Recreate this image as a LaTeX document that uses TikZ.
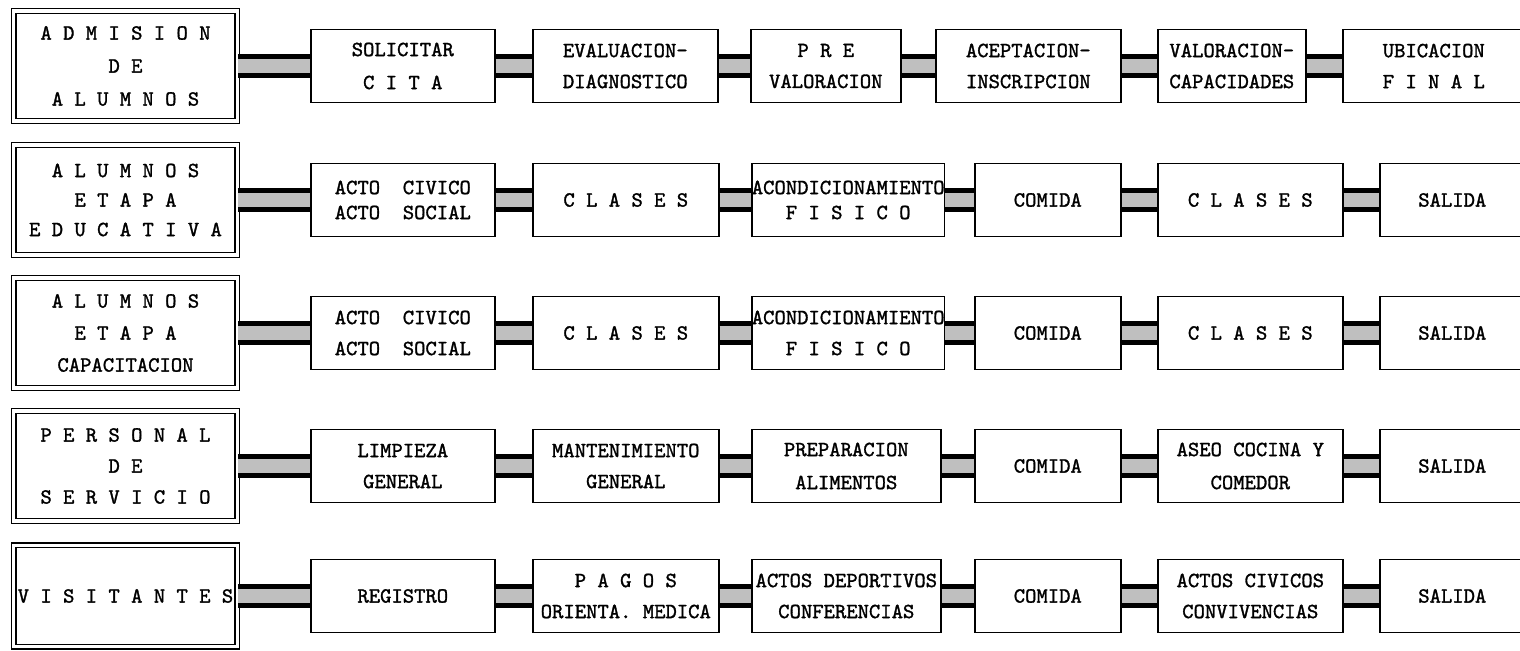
\documentclass[tikz,border=0pt]{standalone}
\usepackage{fontspec}
\newfontfamily\tw{lmmono10-regular}[Extension=.otf,FakeBold=1.4]
\begin{document}
\begin{tikzpicture}[x=0.5pt,y=-0.5pt,
  box/.style={draw,line width=0.8pt,inner sep=0pt,minimum height=36.5pt,align=center,
    font=\tw\fontsize{10.8}{15.5}\selectfont},
  tight/.style={font=\tw\fontsize{10.8}{12.5}\selectfont},
  loose/.style={font=\tw\fontsize{10.8}{16.5}\selectfont},
  head/.style={draw,double,double distance=1.6pt,line width=0.6pt,inner sep=0pt,
    minimum width=111.7pt,minimum height=55pt,align=center,
    font=\tw\fontsize{10.8}{15.5}\selectfont},
  bar/.style={draw=black,line width=2.4pt,double=gray!50,double distance=7pt}]
\useasboundingbox (0,0) rectangle (1520,651);
\newcommand\bx[6][]{\node[box,#1,anchor=west,minimum width={(#4-#3)*0.5pt}] (#2) at (#3,#5) {#6};}

% ---------- row 1
\node[head,font=\tw\fontsize{10.8}{16.5}\selectfont] (h1) at (125.5,66) {A D M I S I O N\\D E\\A L U M N O S};
\bx[loose]{a1}{310}{494}{66}{SOLICITAR\\C I T A}
\bx{a2}{532}{717}{66}{EVALUACION-\\DIAGNOSTICO}
\bx{a3}{750}{900}{66}{P R E\\VALORACION}
\bx{a4}{935}{1120}{66}{ACEPTACION-\\INSCRIPCION}
\bx{a5}{1157}{1305}{66}{VALORACION-\\CAPACIDADES}
\bx{a6}{1342}{1524}{66}{UBICACION\\F I N A L}
\draw[bar] (h1.east) -- (a1.west);
\draw[bar] (a1.east) -- (a2.west);
\draw[bar] (a2.east) -- (a3.west);
\draw[bar] (a3.east) -- (a4.west);
\draw[bar] (a4.east) -- (a5.west);
\draw[bar] (a5.east) -- (a6.west);

% ---------- row 2
\node[head,font=\tw\fontsize{10.8}{14.75}\selectfont] (h2) at (125.5,200) {A L U M N O S\\E T A P A\\E D U C A T I V A};
\bx[tight]{b1}{310}{494}{200}{ACTO\ \ CIVICO\\ACTO\ \ SOCIAL}
\bx{b2}{532}{718}{200}{C L A S E S}
\bx[tight]{b3}{751}{940}{200}{ACONDICIONAMIENTO\\F I S I C O}
\bx{b4}{974}{1120}{200}{COMIDA}
\bx{b5}{1157}{1342}{200}{C L A S E S}
\bx{b6}{1379}{1524}{200}{SALIDA}
\draw[bar] (h2.east) -- (b1.west);
\draw[bar] (b1.east) -- (b2.west);
\draw[bar] (b2.east) -- (b3.west);
\draw[bar] (b3.east) -- (b4.west);
\draw[bar] (b4.east) -- (b5.west);
\draw[bar] (b5.east) -- (b6.west);

% ---------- row 3
\node[head,font=\tw\fontsize{10.8}{16}\selectfont] (h3) at (125.5,333) {A L U M N O S\\E T A P A\\CAPACITACION};
\bx{c1}{310}{494}{333}{ACTO\ \ CIVICO\\ACTO\ \ SOCIAL}
\bx{c2}{532}{718}{333}{C L A S E S}
\bx{c3}{751}{940}{333}{ACONDICIONAMIENTO\\F I S I C O}
\bx{c4}{974}{1120}{333}{COMIDA}
\bx{c5}{1157}{1342}{333}{C L A S E S}
\bx{c6}{1379}{1524}{333}{SALIDA}
\draw[bar] (h3.east) -- (c1.west);
\draw[bar] (c1.east) -- (c2.west);
\draw[bar] (c2.east) -- (c3.west);
\draw[bar] (c3.east) -- (c4.west);
\draw[bar] (c4.east) -- (c5.west);
\draw[bar] (c5.east) -- (c6.west);

% ---------- row 4
\node[head] (h4) at (125.5,466) {P E R S O N A L\\D E\\S E R V I C I O};
\bx{d1}{310}{494}{466}{LIMPIEZA\\GENERAL}
\bx{d2}{532}{718}{466}{MANTENIMIENTO\\GENERAL}
\bx[loose]{d3}{751}{940}{466}{PREPARACION\\ALIMENTOS}
\bx{d4}{974}{1120}{466}{COMIDA}
\bx[loose]{d5}{1157}{1342}{466}{ASEO COCINA Y\\COMEDOR}
\bx{d6}{1379}{1524}{466}{SALIDA}
\draw[bar] (h4.east) -- (d1.west);
\draw[bar] (d1.east) -- (d2.west);
\draw[bar] (d2.east) -- (d3.west);
\draw[bar] (d3.east) -- (d4.west);
\draw[bar] (d4.east) -- (d5.west);
\draw[bar] (d5.east) -- (d6.west);

% ---------- row 5
\node[head,minimum height=50.7pt] (h5) at (125.5,596) {V I S I T A N T E S};
\bx{e1}{310}{494}{596}{REGISTRO}
\bx{e2}{532}{718}{596}{P A G O S\\ORIENTA. MEDICA}
\bx{e3}{751}{940}{596}{ACTOS DEPORTIVOS\\CONFERENCIAS}
\bx{e4}{974}{1120}{596}{COMIDA}
\bx{e5}{1157}{1342}{596}{ACTOS CIVICOS\\CONVIVENCIAS}
\bx{e6}{1379}{1524}{596}{SALIDA}
\draw[bar] (h5.east) -- (e1.west);
\draw[bar] (e1.east) -- (e2.west);
\draw[bar] (e2.east) -- (e3.west);
\draw[bar] (e3.east) -- (e4.west);
\draw[bar] (e4.east) -- (e5.west);
\draw[bar] (e5.east) -- (e6.west);
\end{tikzpicture}
\end{document}
